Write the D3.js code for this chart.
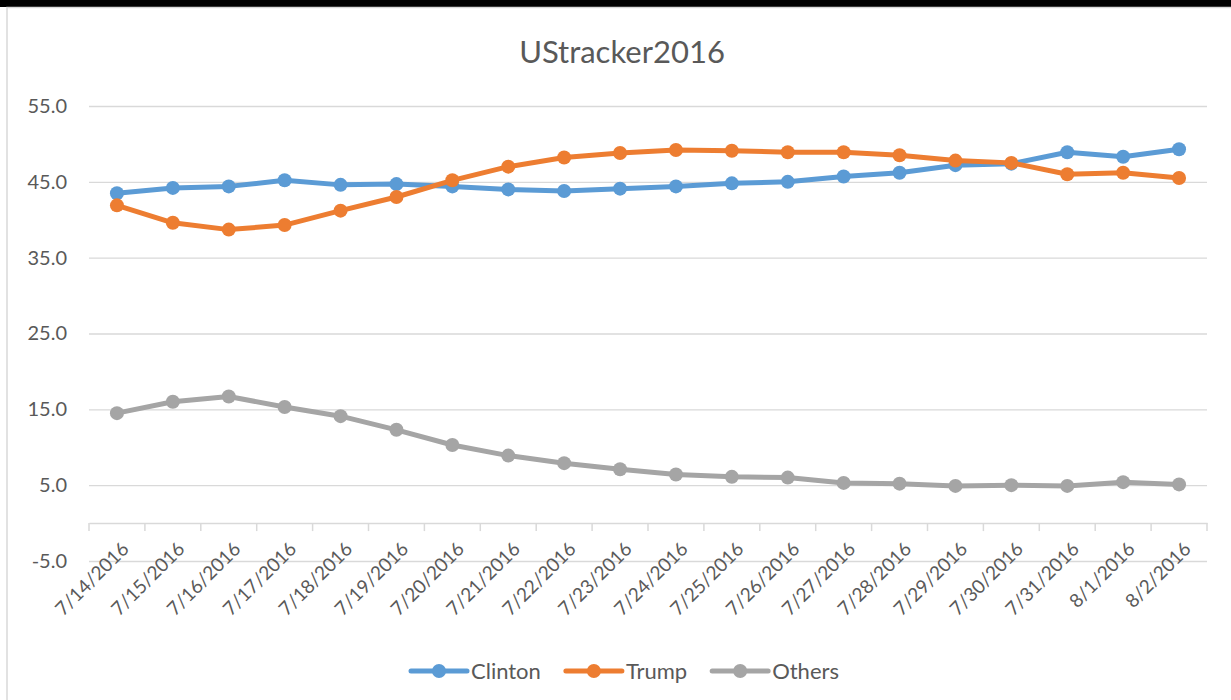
<!DOCTYPE html>
<html>
<head>
<meta charset="utf-8">
<script src="https://cdn.jsdelivr.net/npm/d3@7"></script>
<style>
  html, body { margin: 0; padding: 0; background: #fff; }
  svg { display: block; }
  text { font-family: Lato, "Open Sans", sans-serif; fill: #595959; }
</style>
</head>
<body>
<svg id="chart" width="1231" height="700"></svg>
<script>
const title = "UStracker2016";
const categories = ["7/14/2016","7/15/2016","7/16/2016","7/17/2016","7/18/2016","7/19/2016","7/20/2016","7/21/2016","7/22/2016","7/23/2016","7/24/2016","7/25/2016","7/26/2016","7/27/2016","7/28/2016","7/29/2016","7/30/2016","7/31/2016","8/1/2016","8/2/2016"];
const clinton = [43.5,44.2,44.4,45.2,44.6,44.7,44.4,44.0,43.8,44.1,44.4,44.8,45.0,45.7,46.2,47.2,47.4,48.9,48.3,49.3];
const trump   = [41.9,39.6,38.7,39.3,41.2,43.0,45.2,47.0,48.2,48.8,49.2,49.1,48.9,48.9,48.5,47.8,47.5,46.0,46.2,45.5];
const others  = [14.5,16.0,16.7,15.3,14.1,12.3,10.3,8.9,7.9,7.1,6.4,6.1,6.0,5.3,5.2,4.9,5.0,4.9,5.4,5.1];
const yTicks = [-5,5,15,25,35,45,55];
const seriesNames = ["Clinton","Trump","Others"];
const seriesColors = ["#5B9BD5","#ED7D31","#A5A5A5"];

const series = [clinton, trump, others].map((vals, i) => ({name: seriesNames[i], color: seriesColors[i], values: vals}));

const svg = d3.select("#chart");
const W = 1231, H = 700;
const plot = {left: 89, right: 1207, top: 106, bottom: 561};

// frame
svg.append("rect").attr("x",0).attr("y",0).attr("width",W).attr("height",7).attr("fill","#000");
svg.append("rect").attr("x",7).attr("y",7.5).attr("width",W+10).attr("height",H+10)
  .attr("fill","#fff").attr("stroke","#D9D9D9").attr("stroke-width",1.5);

const x = d3.scaleBand().domain(categories).range([plot.left, plot.right]).paddingInner(0).paddingOuter(0);
const y = d3.scaleLinear().domain([-5,55]).range([plot.bottom, plot.top]);

// gridlines + y labels
const yAxis = d3.axisLeft(y).tickValues(yTicks).tickSize(-(plot.right-plot.left)).tickPadding(22)
  .tickFormat(d => d.toFixed(1));
const gy = svg.append("g").attr("transform",`translate(${plot.left},0)`).call(yAxis);
gy.select(".domain").remove();
gy.selectAll(".tick line").attr("stroke","#D9D9D9").attr("stroke-width",1.3);
gy.selectAll(".tick text").attr("font-size",20).attr("fill","#595959").attr("font-family","Lato");

// category axis at y=0
const xAxis = d3.axisBottom(x).tickSize(0).tickFormat(d=>d);
const gx = svg.append("g").attr("transform",`translate(0,${y(0)})`).call(xAxis);
gx.select(".domain").attr("stroke","#D9D9D9").attr("stroke-width",1.5);
// tick marks at band boundaries
const bounds = categories.map(c => x(c)).concat([plot.right]);
gx.selectAll(".bt").data(bounds).enter().append("line")
  .attr("x1",d=>d).attr("x2",d=>d).attr("y1",0).attr("y2",8)
  .attr("stroke","#D9D9D9").attr("stroke-width",1.5);
gx.selectAll(".tick text")
  .attr("font-size",19).attr("font-family","Lato").attr("fill","#595959")
  .attr("text-anchor","end")
  .attr("dy",0).attr("y",0)
  .attr("transform", "translate(13,27) rotate(-45)");

// lines and markers
const line = d3.line().x((d,i)=>x(categories[i]) + x.bandwidth()/2).y(d=>y(d));
series.forEach(s => {
  const g = svg.append("g");
  g.append("path").datum(s.values).attr("d", line).attr("fill","none")
    .attr("stroke", s.color).attr("stroke-width",5).attr("stroke-linejoin","round").attr("stroke-linecap","round");
  g.selectAll("circle").data(s.values).enter().append("circle")
    .attr("cx",(d,i)=>x(categories[i]) + x.bandwidth()/2).attr("cy",d=>y(d)).attr("r",7)
    .attr("fill", s.color);
});

// title
svg.append("text").attr("x",622).attr("y",63).attr("text-anchor","middle")
  .attr("font-size",31).attr("font-family","Lato").attr("fill","#595959").text(title);

// legend
const lg = svg.append("g");
const ly = 671;
const tmp = series.map(s => {
  const t = lg.append("text").attr("font-size",22).attr("font-family","Lato").text(s.name);
  const w = t.node().getComputedTextLength();
  t.remove();
  return w;
});
const lineLen = 56, textGap = 4, itemGap = 25;
const total = d3.sum(tmp) + series.length*(lineLen+textGap) + (series.length-1)*itemGap;
let cx = 625 - total/2;
series.forEach((s,i) => {
  lg.append("line").attr("x1",cx).attr("x2",cx+lineLen).attr("y1",ly).attr("y2",ly)
    .attr("stroke",s.color).attr("stroke-width",5).attr("stroke-linecap","round");
  lg.append("circle").attr("cx",cx+lineLen/2).attr("cy",ly).attr("r",7).attr("fill",s.color);
  lg.append("text").attr("x",cx+lineLen+textGap).attr("y",ly).attr("dy","0.35em")
    .attr("font-size",22).attr("font-family","Lato").attr("fill","#595959").text(s.name);
  cx += lineLen + textGap + tmp[i] + itemGap;
});
</script>
</body>
</html>
